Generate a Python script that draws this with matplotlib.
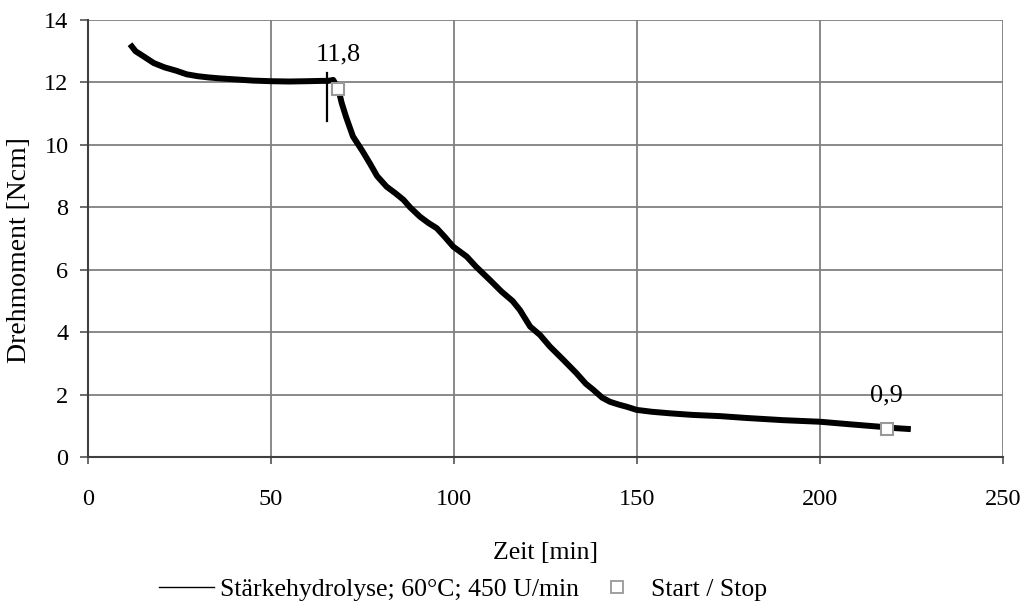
import matplotlib
matplotlib.use('Agg')
import matplotlib.pyplot as plt
from matplotlib.lines import Line2D

# torque curve (time in min, torque in Ncm)
zeit = [12, 13, 15, 18, 21, 24, 27, 30, 33, 36, 40, 45, 50, 55, 60, 64,
        65.6, 67, 68.4, 69.3, 70.5, 72.4, 75, 77, 79,
        81.6, 84, 86.2, 88, 90.7, 93, 95.3, 97.5, 99.8, 103.5, 106, 110,
        113, 116, 118, 120.8, 123.5, 126.2, 129.9, 133.5, 136, 138.1,
        140.5, 142.6, 145, 147.2, 149.9, 154, 159, 165, 172.7, 180, 190,
        200, 208, 216.4, 220, 224]
drehmoment = [13.15, 13.0, 12.85, 12.62, 12.48, 12.38, 12.26, 12.2, 12.16,
              12.13, 12.1, 12.06, 12.04, 12.03, 12.04, 12.05,
              12.05, 12.08, 11.8, 11.35, 10.9, 10.27,
              9.8, 9.41, 9.0, 8.66, 8.45, 8.24, 8.0, 7.70, 7.5, 7.33, 7.05,
              6.74, 6.42, 6.1, 5.65, 5.3, 5.0, 4.71, 4.18, 3.91, 3.54, 3.11,
              2.68, 2.35, 2.15, 1.9, 1.77, 1.68, 1.61, 1.51, 1.45, 1.40,
              1.35, 1.31, 1.25, 1.18, 1.13, 1.05, 0.97, 0.93, 0.9]

# single spike just before the start point
spike_x = [65.4, 65.4]
spike_y = [10.75, 12.3]

# start / stop points
marker_x = [68.4, 218.2]
marker_y = [11.8, 0.9]
marker_labels = ['11,8', '0,9']

plt.rcParams['font.family'] = ['Liberation Serif', 'DejaVu Serif']
plt.rcParams['font.size'] = 17.5

fig = plt.figure(figsize=(10.24, 6.03), dpi=100)
ax = fig.add_axes([0.0859, 0.2421, 0.8936, 0.7247])

ax.plot(zeit, drehmoment, color='black', linewidth=4.3, solid_joinstyle='round', zorder=3)
ax.plot(spike_x, spike_y, color='black', linewidth=1.6, zorder=3)
ax.plot(marker_x, marker_y, linestyle='none', marker='s', markersize=9,
        markerfacecolor='white', markeredgecolor='#999999', markeredgewidth=1.5, zorder=4)
for mx, my, lab in zip(marker_x, marker_y, marker_labels):
    ax.annotate(lab, (mx, my), xytext=(0, 20), textcoords='offset points',
                ha='center', va='baseline', fontsize=19)

ax.set_xlim(0, 250)
ax.set_ylim(0, 14)
ax.set_xticks(range(0, 251, 50))
ax.set_yticks(range(0, 15, 2))
ax.grid(True, color='#808080', linewidth=1.3)
ax.set_axisbelow(True)

for side in ['top', 'right']:
    ax.spines[side].set_visible(False)
for side in ['left', 'bottom']:
    ax.spines[side].set_color('#404040')
    ax.spines[side].set_linewidth(1.5)

ax.tick_params(axis='x', direction='out', length=5, width=1.3, color='#606060', pad=18)
ax.tick_params(axis='y', direction='out', length=6, width=1.3, color='#606060', pad=8)

ax.set_xlabel('Zeit [min]', fontsize=18.5, labelpad=23)
ax.set_ylabel('Drehmoment [Ncm]', fontsize=20)
ax.yaxis.set_label_coords(-0.0612, 0.474)

handles = [Line2D([], [], color='black', linewidth=1),
           Line2D([], [], linestyle='none', marker='s', markersize=8,
                  markerfacecolor='white', markeredgecolor='#999999', markeredgewidth=1.3)]
fig.legend(handles, ['Stärkehydrolyse; 60°C; 450 U/min', 'Start / Stop'],
           loc='center', bbox_to_anchor=(0.452, 0.022), ncol=2, frameon=False,
           fontsize=18.5, handlelength=2.14, handletextpad=0.25, columnspacing=0.4,
           borderaxespad=0, borderpad=0)

fig.savefig('out.png', dpi=100)
